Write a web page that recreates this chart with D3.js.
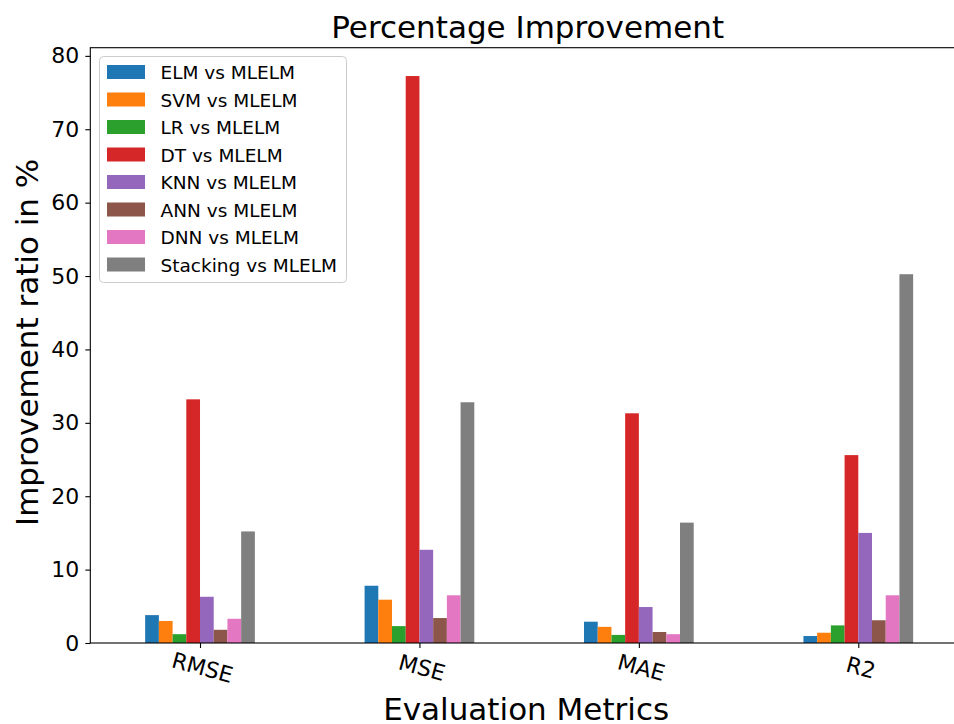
<!DOCTYPE html>
<html><head><meta charset="utf-8">
<script src="https://cdn.jsdelivr.net/npm/d3@7"></script>
<style>body{margin:0;background:#fff;} svg{display:block;font-family:"DejaVu Sans",sans-serif;}</style>
</head><body><svg id="c" width="954" height="724"></svg>
<script>
const categories = ["RMSE","MSE","MAE","R2"];
const seriesNames = ["ELM vs MLELM","SVM vs MLELM","LR vs MLELM","DT vs MLELM","KNN vs MLELM","ANN vs MLELM","DNN vs MLELM","Stacking vs MLELM"];
const colors = ["#1f77b4","#ff7f0e","#2ca02c","#d62728","#9467bd","#8c564b","#e377c2","#7f7f7f"];
const ELM = [3.8, 7.8, 2.9, 0.95];
const SVM = [3.0, 5.9, 2.2, 1.4];
const LR = [1.2, 2.3, 1.1, 2.4];
const DT = [33.2, 77.25, 31.3, 25.6];
const KNN = [6.3, 12.7, 4.9, 15.0];
const ANN = [1.8, 3.4, 1.5, 3.1];
const DNN = [3.3, 6.5, 1.2, 6.5];
const Stacking = [15.2, 32.8, 16.4, 50.25];
const yTicks = [0,10,20,30,40,50,60,70,80];
const series = [ELM,SVM,LR,DT,KNN,ANN,DNN,Stacking];

const svg = d3.select("#c");
const L = 90.3, R = 968, T = 47.7, B = 643;
const x = d3.scaleLinear().domain([-0.5, 3.5]).range([L, R]);
const yMax = d3.max(series.flat()) * 1.05;
const y = d3.scaleLinear().domain([0, yMax]).range([B, T]);
const bw = 0.5 / series.length;

series.forEach((vals, si) => {
  svg.append("g").selectAll("rect").data(vals).join("rect")
    .attr("x", (d,i) => x(i - 0.25 + si*bw))
    .attr("width", x(bw) - x(0))
    .attr("y", d => y(d))
    .attr("height", d => B - y(d))
    .attr("fill", colors[si]);
});

// spines
svg.append("rect").attr("x", L).attr("y", T).attr("width", R-L).attr("height", B-T)
  .attr("fill","none").attr("stroke","#000").attr("stroke-width",1.1);

// y axis
const yAxis = svg.append("g").attr("transform",`translate(${L},0)`)
  .call(d3.axisLeft(y).tickValues(yTicks).tickSize(5).tickPadding(6).tickFormat(d3.format("d")));
yAxis.select(".domain").remove();
yAxis.selectAll("text").attr("font-size", 22).attr("font-family","DejaVu Sans").attr("fill","#000");
yAxis.selectAll("line").attr("stroke","#000").attr("stroke-width",1.1);

// x axis
const xAxis = svg.append("g").attr("transform",`translate(0,${B})`)
  .call(d3.axisBottom(x).tickValues([0,1,2,3]).tickSize(5).tickFormat(i => categories[i]));
xAxis.select(".domain").remove();
xAxis.selectAll("line").attr("stroke","#000").attr("stroke-width",1.1);
xAxis.selectAll("text").attr("font-size", 22).attr("font-family","DejaVu Sans").attr("fill","#000")
  .attr("text-anchor","middle").attr("y", 0).attr("dy", 0)
  .attr("transform", "translate(0,32) rotate(15)");

// title and labels
svg.append("text").attr("x", (L+R)/2 - 1.5).attr("y", 38).attr("text-anchor","middle")
  .attr("font-size", 31).text("Percentage Improvement");
svg.append("text").attr("x", (L+R)/2 - 3).attr("y", 720).attr("text-anchor","middle")
  .attr("font-size", 31).text("Evaluation Metrics");
svg.append("text").attr("transform", `translate(38,${(T+B)/2 - 3}) rotate(-90)`).attr("text-anchor","middle")
  .attr("font-size", 31).text("Improvement ratio in %");

// legend
const lg = svg.append("g");
lg.append("rect").attr("x", 99.5).attr("y", 56.5).attr("width", 247).attr("height", 226).attr("rx", 4)
  .attr("fill","#fff").attr("fill-opacity",0.8).attr("stroke","#ccc").attr("stroke-width",1);
seriesNames.forEach((n, i) => {
  const yy = 65 + i*27.5;
  lg.append("rect").attr("x", 107).attr("y", yy).attr("width", 38).attr("height", 14).attr("fill", colors[i]);
  lg.append("text").attr("x", 160.5).attr("y", yy + 14).attr("font-size", 18.5).attr("fill","#000").text(n);
});
</script></body></html>
